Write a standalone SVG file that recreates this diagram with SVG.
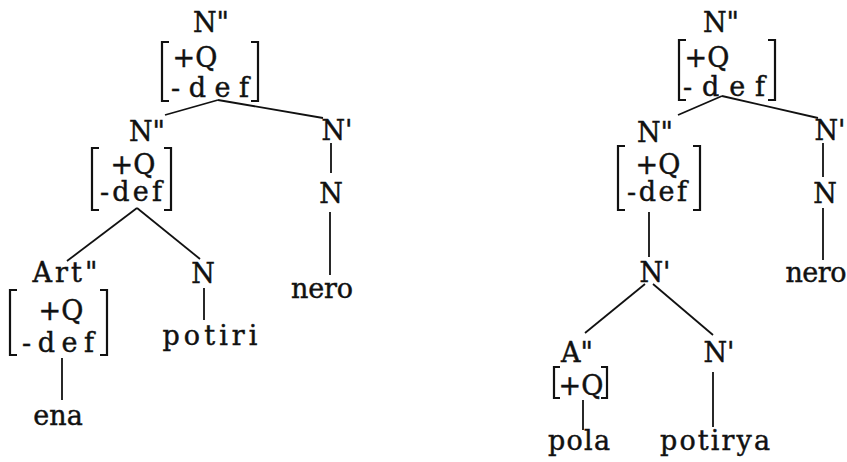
<svg xmlns="http://www.w3.org/2000/svg" width="847" height="462" viewBox="0 0 847 462">
<style>
.t{font-family:"DejaVu Serif","Liberation Serif",serif;font-size:27px;fill:#111;stroke:#111;stroke-width:0.45;text-anchor:middle}
.br{fill:none;stroke:#111;stroke-width:2.2}
.e{stroke:#111;stroke-width:1.8;fill:none}
</style>
<rect width="847" height="462" fill="#fff"/>
<g id="connectors">
<line class="e" x1="218" y1="100" x2="165" y2="115"/>
<line class="e" x1="218" y1="100" x2="323" y2="118"/>
<line class="e" x1="137" y1="208" x2="67" y2="261"/>
<line class="e" x1="137" y1="208" x2="200" y2="259"/>
<line class="e" x1="62" y1="358" x2="62" y2="400"/>
<line class="e" x1="204" y1="288" x2="204" y2="320"/>
<line class="e" x1="331" y1="143" x2="331" y2="173"/>
<line class="e" x1="330" y1="212" x2="330" y2="275"/>
<line class="e" x1="722" y1="96" x2="678" y2="115"/>
<line class="e" x1="722" y1="96" x2="818" y2="118"/>
<line class="e" x1="649" y1="212" x2="649" y2="257"/>
<line class="e" x1="645" y1="284" x2="585" y2="333"/>
<line class="e" x1="653" y1="284" x2="713" y2="335"/>
<line class="e" x1="583" y1="400" x2="583" y2="430"/>
<line class="e" x1="713" y1="372" x2="713" y2="427"/>
<line class="e" x1="823" y1="143" x2="823" y2="177"/>
<line class="e" x1="823" y1="208" x2="823" y2="260"/>
</g>
<g id="L_Npp_top">
<text class="t" x="211" y="32">N"</text>
<path class="br" d="M169 42H162V101H169M251 42H258V101H251"/>
<text class="t" x="195" y="67">+Q</text>
<text class="t" x="210" y="97" textLength="78">-def</text>
</g>
<g id="L_Npp_2">
<text class="t" x="147" y="141">N"</text>
<path class="br" d="M99 148H92V210H99M164 148H171V210H164"/>
<text class="t" x="133" y="174">+Q</text>
<text class="t" x="131" y="201" textLength="62">-def</text>
</g>
<g id="L_Art">
<text class="t" x="65" y="282" textLength="65">Art"</text>
<path class="br" d="M17 290H10V355H17M100 290H107V355H100"/>
<text class="t" x="61" y="320">+Q</text>
<text class="t" x="58" y="352" textLength="72">-def</text>
</g>
<g id="L_ena"><text class="t" x="58" y="425">ena</text></g>
<g id="L_N"><text class="t" x="203" y="283">N</text></g>
<g id="L_potiri"><text class="t" x="210" y="345" textLength="95">potiri</text></g>
<g id="L_Np"><text class="t" x="337" y="140">N'</text></g>
<g id="L_N2"><text class="t" x="331" y="203">N</text></g>
<g id="L_nero"><text class="t" x="322" y="298" textLength="62">nero</text></g>
<g id="R_Npp_top">
<text class="t" x="721" y="32">N"</text>
<path class="br" d="M686 40H679V100H686M768 40H775V100H768"/>
<text class="t" x="707" y="67">+Q</text>
<text class="t" x="724" y="96" textLength="82">-def</text>
</g>
<g id="R_Npp_2">
<text class="t" x="655" y="142">N"</text>
<path class="br" d="M625 146H618V210H625M693 146H700V210H693"/>
<text class="t" x="658" y="174">+Q</text>
<text class="t" x="657" y="201" textLength="60">-def</text>
</g>
<g id="R_Np_mid"><text class="t" x="655" y="282">N'</text></g>
<g id="R_A">
<text class="t" x="577" y="362">A"</text>
<path class="br" d="M560 367H554V398H560M601 367H607V398H601"/>
<text class="t" x="581" y="395">+Q</text>
</g>
<g id="R_pola"><text class="t" x="579" y="450" textLength="62">pola</text></g>
<g id="R_Np_low"><text class="t" x="719" y="362">N'</text></g>
<g id="R_potirya"><text class="t" x="715" y="450" textLength="110">potirya</text></g>
<g id="R_Np_right"><text class="t" x="830" y="140">N'</text></g>
<g id="R_N"><text class="t" x="825" y="203">N</text></g>
<g id="R_nero"><text class="t" x="816" y="282" textLength="61">nero</text></g>
</svg>
